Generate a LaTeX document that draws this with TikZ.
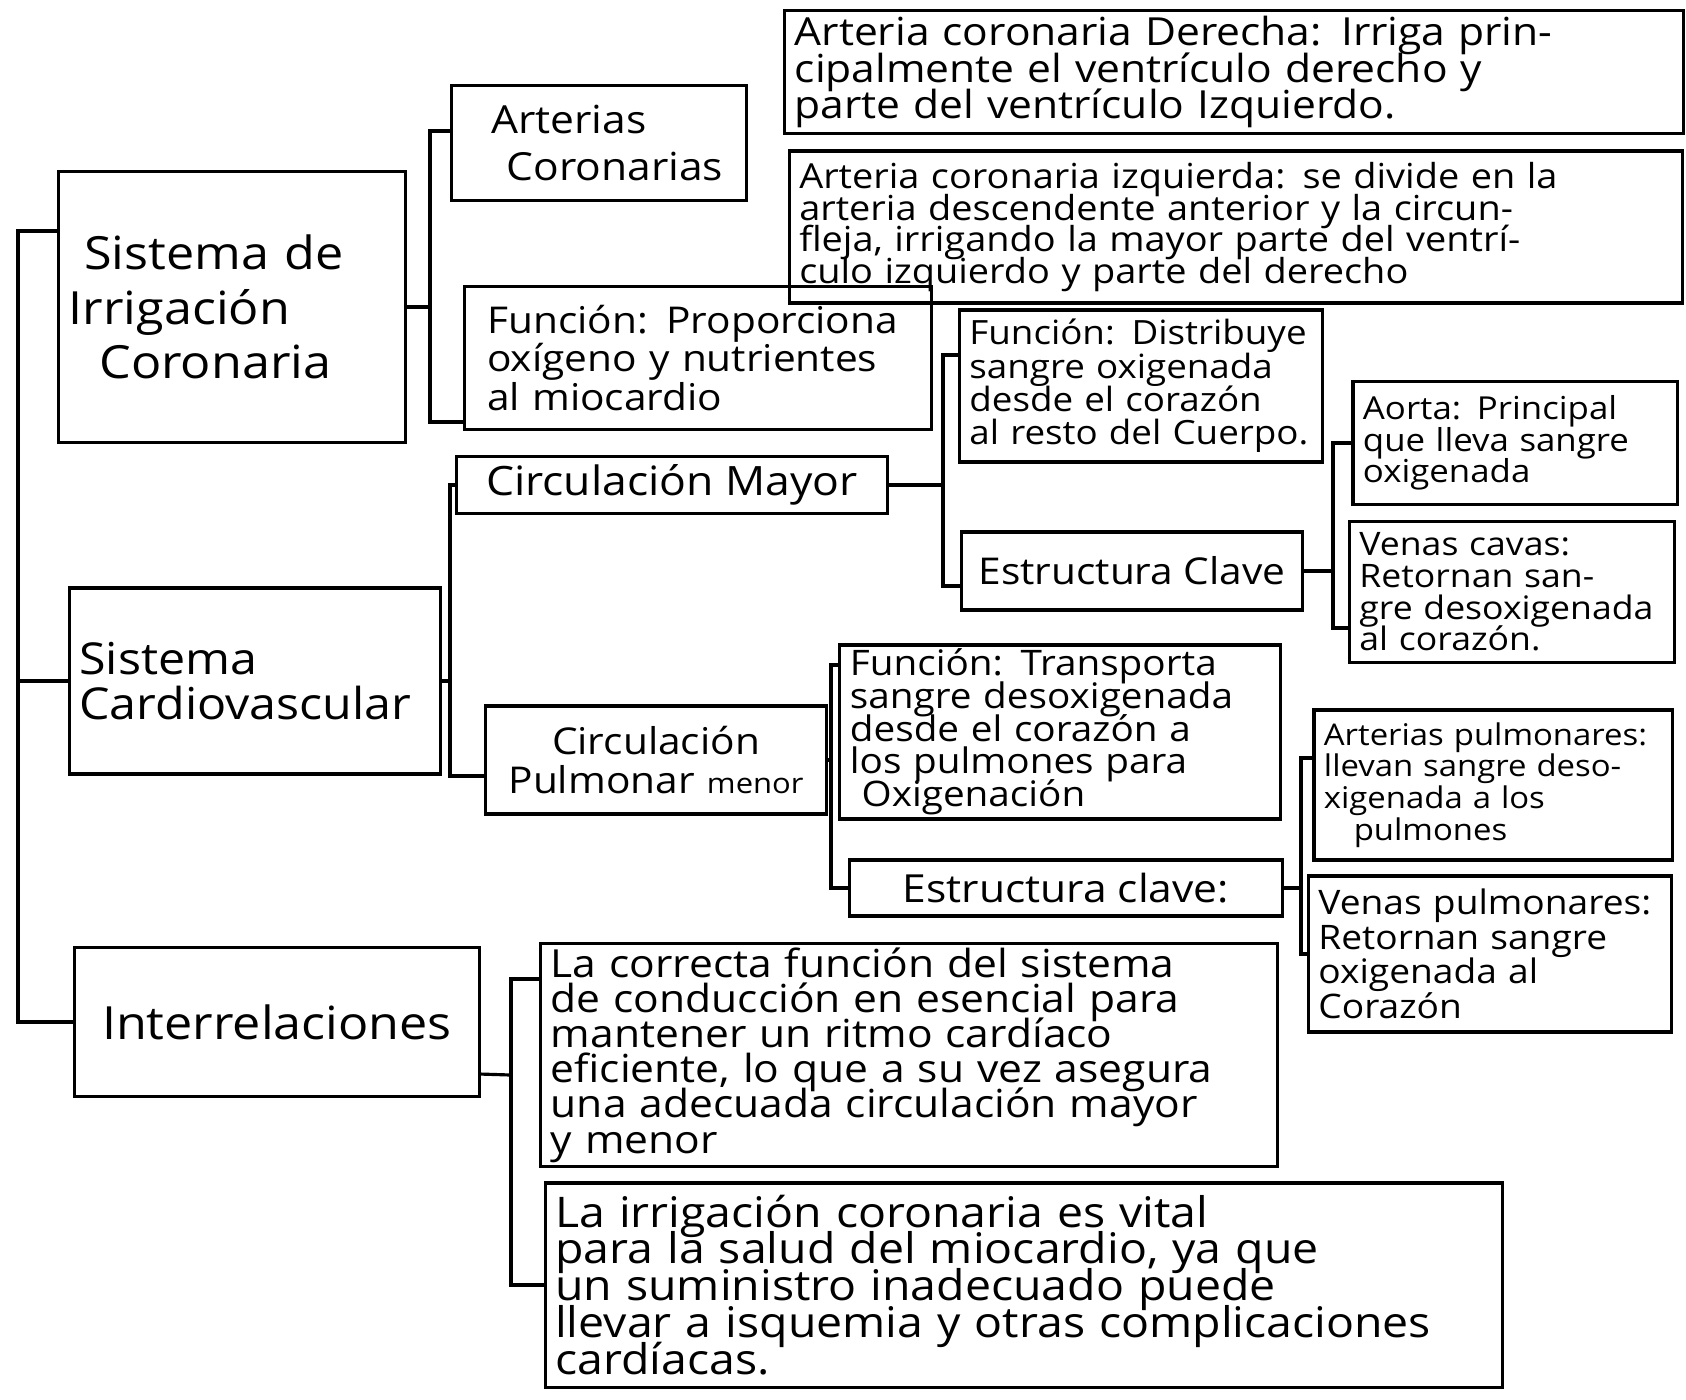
\documentclass[tikz,border=0pt]{standalone}
\usepackage{fontspec}
\setmainfont{Open Sans}[FakeStretch=1.1]
\newcommand\fs[2]{\fontsize{#1}{#2}\selectfont\lineskiplimit=-20pt\relax}
\begin{document}
\begin{tikzpicture}[x=0.01cm, y=-0.01cm,
    box/.style={draw, line width=0.9pt, inner xsep=0.1cm, inner ysep=0pt, align=left},
    link/.style={line width=0.9pt}]

    \fill[white] (0,0) rectangle (1686,1399);
    \useasboundingbox (0,0) rectangle (1686,1399);

    % first level
    \node (sysirr) [box, text width=3.26cm, minimum height=2.71cm, font=\fs{13}{15.5}] at (232,307) {\ Sistema de\\Irrigación\\\ \ Coronaria};
    \node (syscv) [box, text width=3.51cm, minimum height=1.86cm, font=\fs{12.5}{13}] at (255,681) {Sistema\\Cardiovascular};
    \node (inter) [box, align=center, minimum width=4.04cm, minimum height=1.49cm, font=\fs{13}{13}] at (277,1022) {Interrelaciones};

    % coronaria
    \node (artcor) [box, text width=2.75cm, minimum height=1.15cm, font=\fs{11}{13.5}] at (599,143) {\hspace*{0.3cm}Arterias\\\hspace*{0.45cm}Coronarias};
    \node (acd) [box, text width=8.78cm, minimum height=1.23cm, font=\fs{11}{10.5}] at (1234,72) {Arteria coronaria Derecha: Irriga prin-\\cipalmente el ventrículo derecho y\\parte del ventrículo Izquierdo.};
    \node (aci) [box, text width=8.73cm, minimum height=1.52cm, font=\fs{9.8}{9}] at (1236,227) {Arteria coronaria izquierda: se divide en la\\arteria descendente anterior y la circun-\\fleja, irrigando la mayor parte del ventrí-\\culo izquierdo y parte del derecho};
    \node (funcor) [box, text width=4.46cm, minimum height=1.43cm, font=\fs{10.5}{11}] at (698,358) {\ Función: Proporciona\\\ oxígeno y nutrientes\\\ al miocardio};

    % circulacion mayor
    \node (cmayor) [box, align=center, minimum width=4.31cm, minimum height=0.57cm, font=\fs{11.5}{12}] at (672,485) {Circulación Mayor};
    \node (funmay) [box, text width=3.43cm, minimum height=1.52cm, font=\fs{9.5}{9.5}] at (1141,386) {Función: Distribuye\\sangre oxigenada\\desde el corazón\\al resto del Cuerpo.};
    \node (estmay) [box, align=center, minimum width=3.41cm, minimum height=0.78cm, font=\fs{10.5}{12}] at (1132,571) {Estructura Clave};
    \node (aorta) [box, text width=3.04cm, minimum height=1.23cm, font=\fs{9}{9}] at (1515,443) {Aorta: Principal\\que lleva sangre\\oxigenada};
    \node (cavas) [box, text width=3.05cm, minimum height=1.41cm, font=\fs{9.2}{9}] at (1512,592) {Venas cavas:\\Retornan san-\\gre desoxigenada\\al corazón.};

    % circulacion menor
    \node (cmenor) [box, align=center, text width=3.20cm, minimum height=1.08cm, font=\fs{10.5}{11}] at (656,760) {Circulación\\Pulmonar {\fontsize{8}{8}\selectfont menor}};
    \node (funmen) [box, text width=4.20cm, minimum height=1.74cm, font=\fs{10}{9.3}] at (1060,732) {Función: Transporta\\sangre desoxigenada\\desde el corazón a\\los pulmones para\\\ Oxigenación};
    \node (estmen) [box, align=center, minimum width=4.32cm, minimum height=0.56cm, font=\fs{11}{12}] at (1066,888) {Estructura clave:};
    \node (artpul) [box, text width=3.38cm, minimum height=1.50cm, font=\fs{8.5}{9}] at (1493,785) {Arterias pulmonares:\\llevan sangre deso-\\xigenada a los\\\ \ \ pulmones};
    \node (venpul) [box, text width=3.43cm, minimum height=1.56cm, font=\fs{9.6}{9.8}] at (1490,954) {Venas pulmonares:\\Retornan sangre\\oxigenada al\\Corazón};

    % interrelaciones
    \node (rel1) [box, text width=7.16cm, minimum height=2.23cm, font=\fs{11}{10}] at (909,1055) {La correcta función del sistema\\de conducción en esencial para\\mantener un ritmo cardíaco\\eficiente, lo que a su vez asegura\\una adecuada circulación mayor\\y menor};
    \node (rel2) [box, text width=9.37cm, minimum height=2.04cm, font=\fs{12}{10.5}] at (1024,1285) {La irrigación coronaria es vital\\para la salud del miocardio, ya que\\un suministro inadecuado puede\\llevar a isquemia y otras complicaciones\\cardíacas.};

    % junctions
    \coordinate (root) at (18,1022);
    \coordinate (j1) at (430,307);
    \coordinate (j2) at (450,681);
    \coordinate (j3) at (943,485);
    \coordinate (j4) at (1333,571);
    \coordinate (j5) at (831,760);
    \coordinate (j6) at (1301,888);
    \coordinate (j7) at (511,1075);

    \draw [link] ([yshift=0.76cm]sysirr.west) -| (root) -- (inter.west);
    \draw [link] (syscv.west) -- (syscv.west -| root);

    \draw [link] (sysirr.east) -- (j1);
    \draw [link] ([yshift=0.12cm]artcor.west) -| (j1);
    \draw [link] ([yshift=-0.64cm]funcor.west) -| (j1);

    \draw [link] (syscv.east) -- (j2);
    \draw [link] (cmayor.west) -| (j2);
    \draw [link] ([yshift=-0.16cm]cmenor.west) -| (j2);

    \draw [link] (cmayor.east) -- (j3);
    \draw [link] ([yshift=0.31cm]funmay.west) -| (j3);
    \draw [link] ([yshift=-0.15cm]estmay.west) -| (j3);

    \draw [link] (estmay.east) -- (j4);
    \draw [link] (aorta.west) -| (j4);
    \draw [link] ([yshift=-0.36cm]cavas.west) -| (j4);

    \draw [link] (cmenor.east) -- (j5);
    \draw [link] ([yshift=0.67cm]funmen.west) -| (j5);
    \draw [link] (estmen.west) -| (j5);

    \draw [link] (estmen.east) -- (j6);
    \draw [link] ([yshift=0.27cm]artpul.west) -| (j6);
    \draw [link] (venpul.west) -| (j6);

    \draw [link] ([yshift=-0.52cm]inter.east) -- (j7);
    \draw [link] ([yshift=0.76cm]rel1.west) -| (j7);
    \draw [link] (rel2.west) -| (j7);
\end{tikzpicture}
\end{document}
